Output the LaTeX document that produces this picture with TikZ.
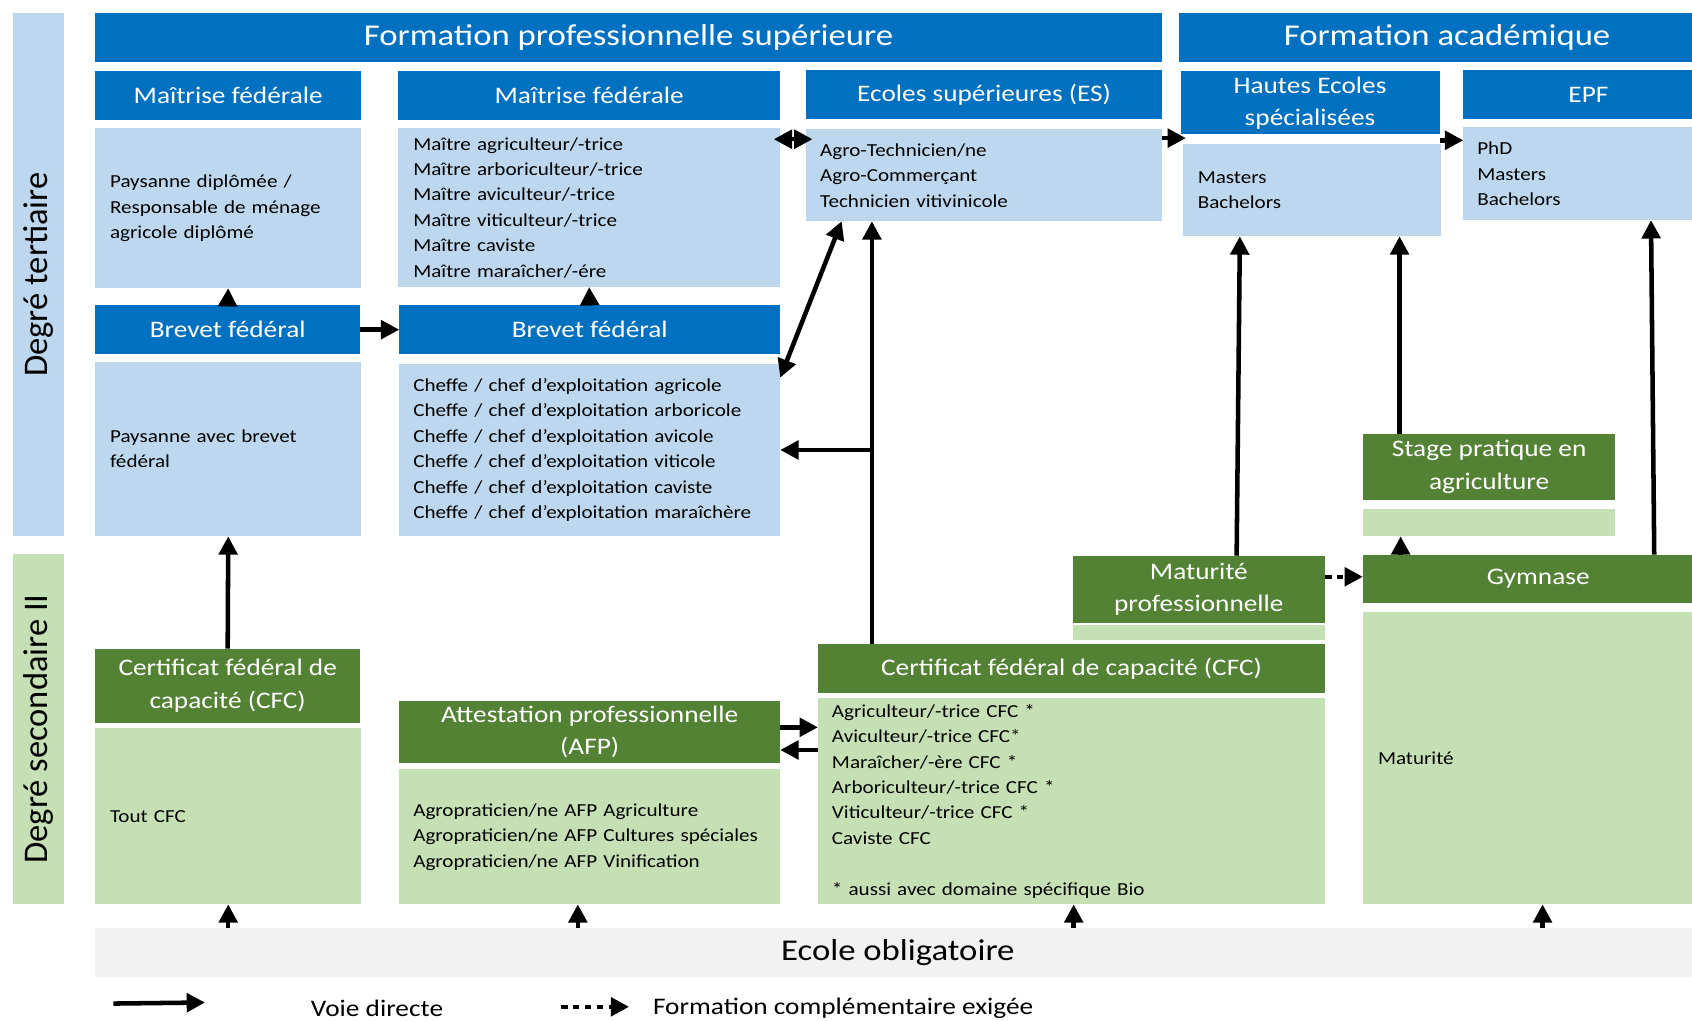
\documentclass[tikz,border=0pt]{standalone}
\usepackage{fontspec}
\setmainfont{Carlito}[FakeStretch=1.15]
\newfontfamily\sidefont{Carlito}
\usetikzlibrary{arrows.meta,calc}
\definecolor{dblue}{HTML}{0070C0}
\definecolor{lblue}{HTML}{BDD7EE}
\definecolor{dgreen}{HTML}{548235}
\definecolor{lgreen}{HTML}{C5E0B4}
\definecolor{lgray}{HTML}{F2F2F2}
\tikzset{
  base/.style={anchor=north west, inner sep=0pt, outer sep=0pt},
  hdr/.style={base, fill=dblue, text=white, align=center, font=\fontsize{22}{30}\selectfont},
  ghdr/.style={base, fill=dgreen, text=white, align=center, font=\fontsize{22}{30}\selectfont},
  big/.style={font=\fontsize{28}{34}\selectfont},
  cont/.style={base, fill=lblue, inner xsep=14pt, align=left, text=black, font=\fontsize{17}{23.6}\selectfont},
  gcont/.style={cont, fill=lgreen},
  side/.style={rotate=90, inner sep=0pt, minimum height=47pt, text=black, font=\sidefont\fontsize{32}{36}\selectfont},
  arr/.style={line width=4.2pt, -{Triangle[length=17pt,width=17pt]}},
  darr/.style={line width=4.2pt, {Triangle[length=17pt,width=17pt]}-{Triangle[length=17pt,width=17pt]}},
  dotarr/.style={arr, dash pattern=on 6pt off 5pt},
  leg/.style={anchor=west, inner sep=0pt, text=black, font=\fontsize{22}{28}\selectfont}
}
\begin{document}
\begin{tikzpicture}[x=1pt,y=-1pt]
\useasboundingbox (0,0) rectangle (1568,946);
% side bars
\node[side, fill=lblue, minimum width=485pt] (deg3) at (35.5,254.5) {Degré tertiaire};
\node[side, fill=lgreen, minimum width=325pt] (deg2) at (35.5,675.5) {Degré secondaire II};
% top titles
\node[hdr, big, minimum width=989pt, minimum height=45pt] (fps) at (88,12) {Formation professionnelle supérieure};
\node[hdr, big, minimum width=496pt, minimum height=45pt] (fa) at (1093,12) {Formation académique};
% second row headers
\node[hdr, minimum width=247pt, minimum height=45pt] (mf1) at (88,66) {Maîtrise fédérale};
\node[hdr, minimum width=354pt, minimum height=45pt] (mf2) at (369,66) {Maîtrise fédérale};
\node[hdr, minimum width=330pt, minimum height=45pt] (es) at (747,65) {Ecoles supérieures (ES)};
\node[hdr, minimum width=240pt, minimum height=58pt, text depth=2pt] (hes) at (1094,66) {Hautes Ecoles\\spécialisées};
\node[hdr, minimum width=232pt, minimum height=45pt] (epf) at (1356,65) {EPF};
% content boxes tertiary
\node[cont, text width=219pt, minimum height=148pt] (m1box) at (88,119) {Paysanne diplômée /\\Responsable de ménage\\agricole diplômé};
\node[cont, text width=326pt, minimum height=147pt] (m2box) at (369,119) {Maître agriculteur/-trice\\Maître arboriculteur/-trice\\Maître aviculteur/-trice\\Maître viticulteur/-trice\\Maître caviste\\Maître maraîcher/-ére};
\node[cont, inner xsep=13pt, text width=304pt, minimum height=85pt] (esbox) at (747,120) {Agro-Technicien/ne\\Agro-Commerçant\\Technicien vitivinicole};
\node[cont, text width=211pt, minimum height=86pt] (hesbox) at (1096,133) {Masters\\Bachelors};
\node[cont, inner xsep=13pt, text width=206pt, minimum height=86pt] (epfbox) at (1356,118) {PhD\\Masters\\Bachelors};
% brevet
\node[hdr, minimum width=246pt, minimum height=45pt] (bf1) at (88,283) {Brevet fédéral};
\node[hdr, minimum width=353pt, minimum height=45pt] (bf2) at (370,283) {Brevet fédéral};
\node[cont, text width=219pt, minimum height=162pt] (bf1box) at (88,335) {Paysanne avec brevet\\fédéral};
\node[cont, inner xsep=13pt, text width=327pt, minimum height=160pt] (bf2box) at (370,337) {Cheffe / chef d’exploitation agricole\\Cheffe / chef d’exploitation arboricole\\Cheffe / chef d’exploitation avicole\\Cheffe / chef d’exploitation viticole\\Cheffe / chef d’exploitation caviste\\Cheffe / chef d’exploitation maraîchère};
% secondary
\node[ghdr, minimum width=246pt, minimum height=69pt] (cfc1) at (88,601) {Certificat fédéral de\\capacité (CFC)};
\node[gcont, text width=219pt, minimum height=163pt] (cfc1box) at (88,675) {Tout CFC};
\node[ghdr, minimum width=353pt, minimum height=57pt] (afp) at (370,650) {Attestation professionnelle\\(AFP)};
\node[gcont, inner xsep=13pt, text width=327pt, minimum height=125pt] (afpbox) at (370,713) {Agropraticien/ne AFP Agriculture\\Agropraticien/ne AFP Cultures spéciales\\Agropraticien/ne AFP Vinification};
\node[ghdr, minimum width=470pt, minimum height=45pt] (cfc2) at (758,597) {Certificat fédéral de capacité (CFC)};
\node[gcont, inner xsep=13pt, text width=444pt, minimum height=191pt] (cfc2box) at (758,647) {Agriculteur/-trice CFC *\\Aviculteur/-trice CFC*\\Maraîcher/-ère CFC *\\Arboriculteur/-trice CFC *\\Viticulteur/-trice CFC *\\Caviste CFC\\[23.6pt]* aussi avec domaine spécifique Bio};
\node[ghdr, minimum width=234pt, minimum height=62pt] (mp) at (994,515) {Maturité\\professionnelle};
\node[base, fill=lgreen, minimum width=234pt, minimum height=14pt] (mpstrip) at (994,579) {};
\node[ghdr, minimum width=234pt, minimum height=61pt] (stage) at (1263,402) {Stage pratique en\\agriculture};
\node[base, fill=lgreen, minimum width=234pt, minimum height=25pt] (stagestrip) at (1263,472) {};
\node[ghdr, minimum width=325pt, minimum height=45pt] (gym) at (1263,514) {Gymnase};
\node[gcont, text width=297pt, minimum height=271pt] (gymbox) at (1263,567) {Maturité};
% bottom
\node[base, big, fill=lgray, text=black, minimum width=1488pt, minimum height=45pt] (eo) at (88,860) {Ecole obligatoire};
% legend
\coordinate (la1) at (105,930);
\coordinate (la2) at (190,929);
\node[leg] (lt1) at (288,934) {Voie directe};
\coordinate (lb1) at (520,933);
\coordinate (lb2) at (583,933);
\node[leg] (lt2) at (605,934) {Formation complémentaire exigée};
\draw[arr] (la1) -- (la2);
\draw[dotarr] (lb1) -- (lb2);
% arrows
\draw[arr] (bf1.north) -- (m1box.south);
\draw[arr] (bf2.north) -- (m2box.south);
\draw[arr] (bf1.east) -- (bf2.west);
\coordinate (d1) at ([yshift=-10pt]m2box.north east);
\coordinate (d2) at (d1 -| esbox.west);
\draw[darr, shorten <=-6pt, shorten >=-6pt] (d1) -- (d2);
\coordinate (e1) at ([yshift=-8pt]esbox.north east);
\coordinate (e2) at (e1 -| hesbox.west);
\draw[arr, shorten >=-3pt] (e1) -- (e2);
\coordinate (h2) at ([yshift=-12pt]epfbox.north west);
\coordinate (h1) at (h2 -| hes.east);
\draw[arr] (h1) -- (h2);
\draw[darr] ([xshift=33pt]esbox.south west) -- ([yshift=-13pt]bf2box.north east);
\coordinate (vb) at ([xshift=50pt]cfc2.north west);
\coordinate (vt) at (vb |- esbox.south);
\coordinate (vm) at (vb |- bf2box.east);
\draw[arr] (vb) -- (vt);
\draw[arr] (vm) -- (bf2box.east);
\draw[arr] (cfc1.north) -- (bf1box.south);
\coordinate (a1) at ([yshift=-24pt]afp.north east);
\coordinate (a2) at (a1 -| cfc2box.west);
\draw[arr] (a1) -- (a2);
\coordinate (b1) at ([yshift=-45pt]afp.north east);
\coordinate (b2) at (b1 -| cfc2box.west);
\draw[arr] (b2) -- (b1);
\draw[arr] ([xshift=152pt]mp.north west) -- ([xshift=53pt]hesbox.south west);
\coordinate (s1) at ([xshift=34pt]stage.north west);
\coordinate (s2) at (s1 |- hesbox.south);
\draw[arr] (s1) -- (s2);
\coordinate (g1) at ([xshift=35pt]gym.north west);
\coordinate (g2) at (g1 |- stagestrip.south);
\draw[arr] (g1) -- (g2);
\draw[arr] ([xshift=270pt]gym.north west) -- ([xshift=174pt]epfbox.south west);
\coordinate (p1) at ([yshift=2pt]gym.west -| mp.east);
\coordinate (p2) at ([yshift=2pt]gym.west);
\draw[dotarr] (p1) -- (p2);
% from Ecole obligatoire
\coordinate (o1) at (cfc1box.south);
\coordinate (o2) at ([xshift=-11pt]afpbox.south);
\coordinate (o3) at ([xshift=2pt]cfc2box.south);
\coordinate (o4) at ([xshift=4pt]gymbox.south);
\draw[arr] (o1 |- eo.north) -- (o1);
\draw[arr] (o2 |- eo.north) -- (o2);
\draw[arr] (o3 |- eo.north) -- (o3);
\draw[arr] (o4 |- eo.north) -- (o4);
\end{tikzpicture}
\end{document}
